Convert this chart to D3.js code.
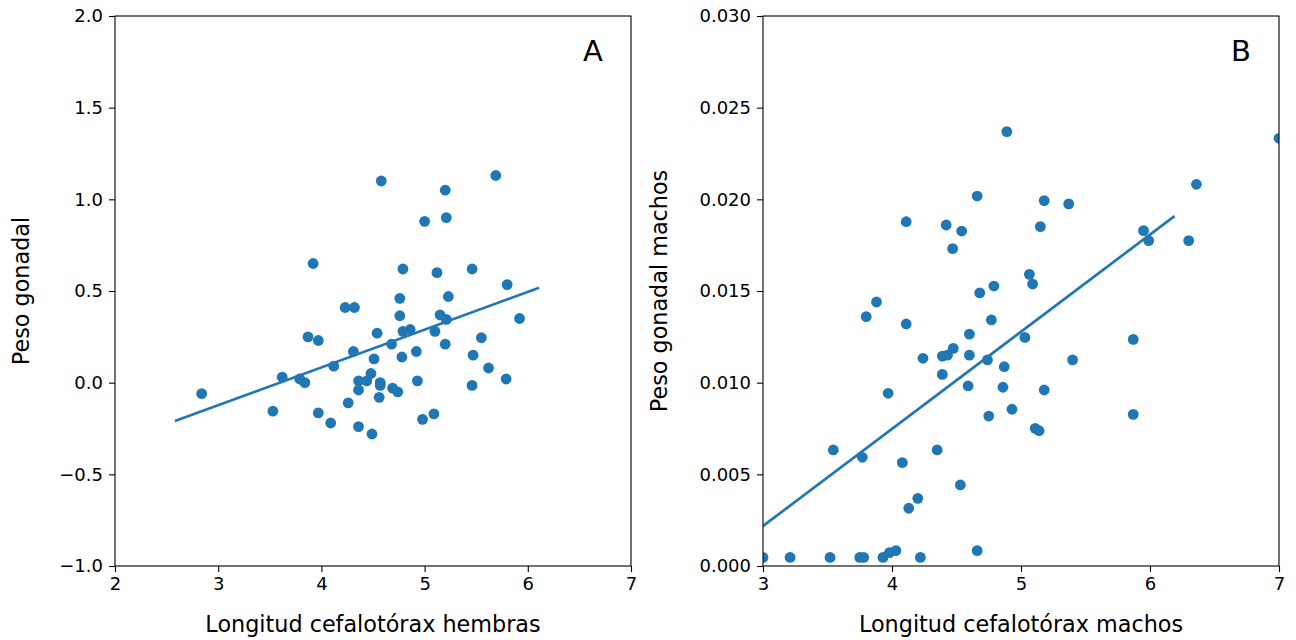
<!DOCTYPE html>
<html>
<head>
<meta charset="UTF-8">
<title>peso gonadal</title>
<script src="https://d3js.org/d3.v7.min.js"></script>
<style>
	body { margin: 0; background: #fff; }
	text { font-family: "DejaVu Sans", sans-serif; fill: #000; }
	.tick line { stroke: #000; stroke-width: 1.1; }
	.tick text { font-size: 18px; }
	.axlabel { font-size: 22.3px; }
	.panel-letter { font-size: 29px; }
</style>
</head>
<body>
<svg id="chart" width="1296" height="640"></svg>

<script type="text/javascript">

// hembras: longitud cefalotorax (x) / peso gonadal (y)
var hembrasX = [2.84, 3.53, 3.62, 3.79, 3.84, 3.87, 3.92, 3.97, 3.97, 4.09, 4.12, 4.23, 4.32, 4.31, 4.26,
	4.36, 4.36, 4.36, 4.44, 4.48, 4.49, 4.51, 4.54, 4.56, 4.57, 4.57, 4.58, 4.68, 4.69, 4.74,
	4.76, 4.76, 4.78, 4.79, 4.79, 4.86, 4.92, 4.93, 4.98, 5.00, 5.09, 5.10, 5.12, 5.15, 5.20,
	5.21, 5.20, 5.21, 5.23, 5.46, 5.47, 5.46, 5.55, 5.62, 5.69, 5.79, 5.80, 5.92];
var hembrasY = [-0.06, -0.155, 0.03, 0.02, 0.0, 0.25, 0.65, 0.23, -0.165, -0.22, 0.09, 0.41, 0.41, 0.17, -0.11,
	0.01, -0.04, -0.24, 0.01, 0.05, -0.28, 0.13, 0.27, -0.08, 0.0, -0.015, 1.10, 0.21, -0.03, -0.05,
	0.46, 0.365, 0.14, 0.62, 0.28, 0.29, 0.17, 0.01, -0.2, 0.88, -0.17, 0.28, 0.60, 0.37, 1.05,
	0.90, 0.21, 0.345, 0.47, 0.62, 0.15, -0.015, 0.245, 0.08, 1.13, 0.02, 0.535, 0.35];

// machos
var machosX = [3.00, 3.21, 3.52, 3.545, 3.75, 3.78, 3.77, 3.80, 3.88, 3.93, 3.97, 3.98, 4.03, 4.08, 4.11,
	4.11, 4.13, 4.20, 4.22, 4.24, 4.35, 4.39, 4.39, 4.42, 4.43, 4.47, 4.475, 4.53, 4.54, 4.59,
	4.60, 4.60, 4.66, 4.66, 4.68, 4.74, 4.75, 4.77, 4.79, 4.86, 4.87, 4.89, 4.93, 5.03, 5.065,
	5.09, 5.11, 5.14, 5.15, 5.18, 5.18, 5.37, 5.40, 5.87, 5.87, 5.95, 5.99, 6.30, 6.36, 7.00];
var machosY = [0.00047, 0.00047, 0.00047, 0.00633, 0.00047, 0.00047, 0.00593, 0.0136, 0.0144, 0.00047, 0.00942, 0.00073, 0.00084, 0.00564, 0.01878,
	0.0132, 0.00315, 0.00369, 0.00047, 0.01133, 0.00633, 0.01145, 0.01045, 0.0186, 0.0115, 0.01731, 0.01187, 0.00442, 0.01827, 0.00982,
	0.01265, 0.0115, 0.02018, 0.00084, 0.0149, 0.01124, 0.00818, 0.01342, 0.01527, 0.00975, 0.01087, 0.02369, 0.00855, 0.01247, 0.01591,
	0.01538, 0.00751, 0.00738, 0.01851, 0.01993, 0.0096, 0.01975, 0.01124, 0.01236, 0.00827, 0.01829, 0.01775, 0.01775, 0.02082, 0.02333];

// rectas de ajuste (extremos en x, pendiente, intercepto)
var ajusteA_x = [2.58, 6.11];
var ajusteA_pend = 0.206;
var ajusteA_int = -0.741;
var ajusteB_x = [2.6, 6.19];
var ajusteB_pend = 0.0053;
var ajusteB_int = -0.01372;

// ejes
var ticksA_x = [2, 3, 4, 5, 6, 7];
var ticksA_y = [-1.0, -0.5, 0.0, 0.5, 1.0, 1.5, 2.0];
var ticksB_x = [3, 4, 5, 6, 7];
var ticksB_y = [0.000, 0.005, 0.010, 0.015, 0.020, 0.025, 0.030];

var azul = "#1f77b4";
var svg = d3.select("#chart");

function panel(opt) {
	var g = svg.append("g").attr("transform", "translate(" + opt.left + "," + opt.top + ")");
	var w = opt.width, h = opt.height;

	var x = d3.scaleLinear().domain(opt.xDom).range([0, w]);
	var y = d3.scaleLinear().domain(opt.yDom).range([h, 0]);

	g.append("clipPath").attr("id", opt.id + "-clip")
		.append("rect").attr("width", w).attr("height", h);

	var plot = g.append("g").attr("clip-path", "url(#" + opt.id + "-clip)");

	// recta
	var line = d3.line().x(function(d) { return x(d); }).y(function(d) { return y(opt.pend * d + opt.inter); });
	plot.append("path")
		.datum(opt.lineX)
		.attr("d", line)
		.attr("fill", "none")
		.attr("stroke", azul)
		.attr("stroke-width", 2.7);

	// puntos
	plot.selectAll("circle")
		.data(opt.xs)
		.enter().append("circle")
		.attr("cx", function(d) { return x(d); })
		.attr("cy", function(d, i) { return y(opt.ys[i]); })
		.attr("r", 5.4)
		.attr("fill", azul);

	var ax = g.append("g").attr("transform", "translate(0," + h + ")")
		.call(d3.axisBottom(x).tickValues(opt.xTicks).tickFormat(d3.format("d")).tickSize(6).tickPadding(5));
	var ay = g.append("g")
		.call(d3.axisLeft(y).tickValues(opt.yTicks).tickFormat(d3.format(opt.yFmt)).tickSize(6).tickPadding(6));
	ax.select(".domain").remove();
	ay.select(".domain").remove();
	g.selectAll(".tick text").attr("font-family", null).attr("font-size", null);

	// marco
	g.append("rect").attr("width", w).attr("height", h)
		.attr("fill", "none").attr("stroke", "#000").attr("stroke-width", 1.1);

	g.append("text").attr("class", "axlabel")
		.attr("x", w / 2).attr("y", h + 66)
		.attr("text-anchor", "middle")
		.text(opt.xLabel);

	g.append("text").attr("class", "axlabel")
		.attr("transform", "translate(" + opt.yLabelX + "," + (h / 2) + ") rotate(-90)")
		.attr("text-anchor", "middle")
		.text(opt.yLabel);

	g.append("text").attr("class", "panel-letter")
		.attr("x", w - 38).attr("y", 45)
		.attr("text-anchor", "middle")
		.text(opt.letter);
}

panel({
	id: "a", left: 115, top: 16, width: 516, height: 550,
	xDom: [2, 7], yDom: [-1, 2],
	xs: hembrasX, ys: hembrasY,
	lineX: ajusteA_x, pend: ajusteA_pend, inter: ajusteA_int,
	xTicks: ticksA_x, yTicks: ticksA_y, yFmt: ".1f",
	xLabel: "Longitud cefalotórax hembras", yLabel: "Peso gonadal", yLabelX: -86,
	letter: "A"
});

panel({
	id: "b", left: 763, top: 16, width: 516, height: 550,
	xDom: [3, 7], yDom: [0, 0.03],
	xs: machosX, ys: machosY,
	lineX: ajusteB_x, pend: ajusteB_pend, inter: ajusteB_int,
	xTicks: ticksB_x, yTicks: ticksB_y, yFmt: ".3f",
	xLabel: "Longitud cefalotórax machos", yLabel: "Peso gonadal machos", yLabelX: -96,
	letter: "B"
});
</script>
</body>
</html>
